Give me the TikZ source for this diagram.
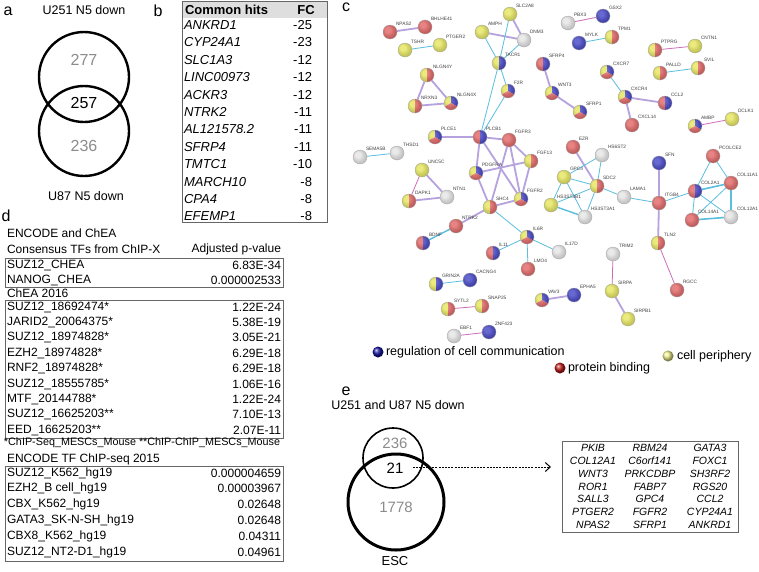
\documentclass[tikz,border=0pt]{standalone}
\usepackage{fontspec}
\setmainfont{Liberation Sans}
\usetikzlibrary{arrows.meta}
\pgfdeclarelayer{back}
\pgfdeclarelayer{bg}
\pgfsetlayers{back,bg,main}
\definecolor{cY}{RGB}{226,226,70}
\definecolor{cR}{RGB}{222,78,78}
\definecolor{cB}{RGB}{40,40,190}
\definecolor{cW}{RGB}{226,226,226}
\definecolor{cyanE}{RGB}{90,190,222}
\definecolor{pinkE}{RGB}{205,110,185}
\definecolor{purpE}{RGB}{182,162,222}
\definecolor{numgray}{RGB}{140,140,140}
\definecolor{hdrgray}{RGB}{222,222,222}
\definecolor{lgB}{RGB}{20,20,160}
\definecolor{lgR}{RGB}{190,25,25}
\definecolor{lgY}{RGB}{240,240,140}
\newcommand\fs[1]{\fontsize{#1}{#1}\selectfont}
\newcommand\shadeball[1]{\shade[ball color=white,opacity=0.3] (#1.center) circle (7);
  \draw[black!35,line width=0.3pt] (#1.center) circle (7);
  \node[glab] (#1-l) at ([shift={(6,8)}]#1.center) {#1};}
\newcommand\gA[4]{\node[gn] (#1) at (#2,-#3) {};
  \fill[#4] (#1.center) circle (7);\shadeball{#1}}
\newcommand\gB[5]{\node[gn] (#1) at (#2,-#3) {};
  \fill[#4] (#1.center) ++(90:7) arc[start angle=90,end angle=270,radius=7] -- cycle;
  \fill[#5] (#1.center) ++(-90:7) arc[start angle=-90,end angle=90,radius=7] -- cycle;
  \shadeball{#1}}
\newcommand\gC[3]{\node[gn] (#1) at (#2,-#3) {};
  \fill[cY] (#1.center) -- ++(90:7) arc[start angle=90,end angle=210,radius=7] -- cycle;
  \fill[cB] (#1.center) -- ++(90:7) arc[start angle=90,end angle=-30,radius=7] -- cycle;
  \fill[cR] (#1.center) -- ++(210:7) arc[start angle=210,end angle=330,radius=7] -- cycle;
  \shadeball{#1}}
\begin{document}
\begin{tikzpicture}[x=1pt,y=1pt,
  every node/.style={inner sep=0pt,outer sep=0pt},
  lbl/.style={font=\fs{16}},
  txt/.style={font=\fs{12.5}},
  num/.style={font=\fs{16}},
  gn/.style={circle,minimum size=14pt,inner sep=0pt},
  glab/.style={font=\fs{4.8},text=black!75,anchor=west},
  ecy/.style={draw=cyanE,line width=0.8pt},
  epk/.style={draw=pinkE,line width=0.8pt},
  epu/.style={draw=purpE,line width=1.8pt},
  tbl/.style={draw=black!60,line width=0.9pt},
  drow/.style={font=\fs{12},anchor=west},
  dval/.style={font=\fs{12},anchor=east},
  venn/.style={circle,draw,inner sep=0pt}]
\useasboundingbox (0,0) rectangle (759,-571);
\begin{pgfonlayer}{back}
\fill[white] (0,0) rectangle (759,-571);
\end{pgfonlayer}
% ---------- panel a
\node[lbl] (la) at (8,-11) {a};
\node[txt] (ta) at (84,-10) {U251 N5 down};
\node[venn,line width=2.4pt,minimum size=90pt] (va1) at (84,-77) {};
\node[venn,line width=2.4pt,minimum size=90pt] (va2) at (84,-131) {};
\node[num,text=numgray] (n277) at (84,-60) {277};
\node[num] (n257) at (84,-103) {257};
\node[num,text=numgray] (n236) at (84,-146) {236};
\node[txt] (tb) at (86,-196) {U87 N5 down};
% ---------- panel b
\node[lbl] (lb) at (158,-11) {b};
\fill[hdrgray] (182,-1) rectangle (327,-18);
\draw[tbl] (182,-1) rectangle (327,-222);
\node[font=\fs{13}\bfseries,anchor=west] (bh1) at (185,-10) {Common hits};
\node[font=\fs{13}\bfseries] (bh2) at (306,-10) {FC};
\foreach \g/\v [count=\i from 0] in {ANKRD1/-25,CYP24A1/-23,SLC1A3/-12,LINC00973/-12,ACKR3/-12,NTRK2/-11,AL121578.2/-11,SFRP4/-11,TMTC1/-10,MARCH10/-8,CPA4/-8,EFEMP1/-8}{
  \node[font=\fs{13}\itshape,anchor=west] (bg\i) at (184,-25-17.4*\i) {\g};
  \node[font=\fs{13},anchor=east] (bv\i) at (312,-25-17.4*\i) {\v};
}
% ---------- panel d
\node[lbl] (ld) at (6,-216) {d};
\node[drow] (d1) at (7,-233) {ENCODE and ChEA};
\node[drow] (d2) at (7,-249) {Consensus TFs from ChIP-X};
\node[dval] (d3) at (281,-249) {Adjusted p-value};
\draw[tbl] (5,-258) rectangle (283,-287);
\foreach \g/\v [count=\i from 0] in {SUZ12\_CHEA/6.83E-34,NANOG\_CHEA/0.000002533}{
  \node[drow] (da\i) at (7,-265-15*\i) {\g};
  \node[dval] (dav\i) at (281,-265-15*\i) {\v};
}
\node[drow] (d4) at (7,-293) {ChEA 2016};
\draw[tbl] (5,-300) rectangle (283,-438);
\foreach \g/\v [count=\i from 0] in {SUZ12\_18692474*/1.22E-24,JARID2\_20064375*/5.38E-19,SUZ12\_18974828*/3.05E-21,EZH2\_18974828*/6.29E-18,RNF2\_18974828*/6.29E-18,SUZ12\_18555785*/1.06E-16,MTF\_20144788*/1.22E-24,SUZ12\_16625203**/7.10E-13,EED\_16625203**/2.07E-11}{
  \node[drow] (db\i) at (7,-307-15.4*\i) {\g};
  \node[dval] (dbv\i) at (281,-307-15.4*\i) {\v};
}
\node[font=\fs{10.8},anchor=west] (d5) at (4,-443) {*ChIP-Seq\_MESCs\_Mouse **ChIP-ChIP\_MESCs\_Mouse};
\node[drow] (d6) at (7,-459) {ENCODE TF ChIP-seq 2015};
\draw[tbl] (5,-466) rectangle (283,-561);
\foreach \g/\v [count=\i from 0] in {SUZ12\_K562\_hg19/0.000004659,EZH2\_B cell\_hg19/0.00003967,CBX\_K562\_hg19/0.02648,GATA3\_SK-N-SH\_hg19/0.02648,CBX8\_K562\_hg19/0.04311,SUZ12\_NT2-D1\_hg19/0.04961}{
  \node[drow] (dc\i) at (7,-473-15.8*\i) {\g};
  \node[dval] (dcv\i) at (281,-473-15.8*\i) {\v};
}
% ---------- panel c
\node[lbl] (lc) at (346,-7) {c};
\gA{NPAS2}{390}{32}{cR}
\gA{BHLHE41}{425}{27}{cR}
\gA{TSHR}{405}{50}{cY}
\gA{PTGER2}{440}{45}{cY}
\gA{SLC2A8}{510}{14}{cY}
\gA{AMPH}{482}{32}{cY}
\gA{DNM3}{524}{40}{cW}
\gB{TACR1}{499}{63}{cY}{cB}
\gC{F2R}{508}{91}
\gA{PBX3}{568}{23}{cW}
\gA{GSX2}{603}{16}{cB}
\gA{MYLK}{579}{43}{cB}
\gB{TPM1}{612}{37}{cY}{cR}
\gB{SFRP4}{543}{64}{cR}{cB}
\gC{WNT3}{552}{93}
\gC{SFRP1}{580}{112}
\gC{CXCR7}{607}{72}
\gC{CXCR4}{625}{97}
\gB{CCL2}{665}{103}{cR}{cB}
\gA{CXCL14}{632}{125}{cR}
\gB{PTPRG}{655}{50}{cY}{cR}
\gA{CNTN1}{695}{46}{cY}
\gB{PALLD}{660}{73}{cY}{cR}
\gB{SVIL}{698}{68}{cY}{cR}
\gC{AMBP}{695}{126}
\gA{DCLK1}{732}{119}{cY}
\gB{NLGN4Y}{427}{75}{cY}{cR}
\gB{NRXN3}{415}{106}{cY}{cR}
\gC{NLGN4X}{451}{103}
\gC{PLCE1}{435}{137}
\gB{PLCB1}{480}{137}{cR}{cB}
\gA{FGFR3}{509}{140}{cR}
\gB{FGF13}{531}{161}{cY}{cR}
\gC{PDGFRA}{476}{173}
\gC{FGFR2}{521}{199}
\gB{SHC4}{490}{207}{cY}{cR}
\gA{NTRK2}{456}{226}{cR}
\gA{SEMA5B}{360}{157}{cW}
\gA{THSD1}{397}{153}{cW}
\gA{UNC5C}{422}{170}{cY}
\gB{DAPK1}{409}{201}{cY}{cR}
\gA{NTN1}{447}{197}{cW}
\gA{EZR}{573}{147}{cR}
\gA{HS6ST2}{602}{155}{cW}
\gA{GPC4}{564}{177}{cY}
\gB{SDC2}{597}{186}{cY}{cR}
\gA{HS3ST3B1}{551}{205}{cY}
\gA{HS3ST3A1}{585}{217}{cW}
\gA{LAMA1}{624}{197}{cW}
\gA{SFN}{659}{163}{cB}
\gA{ITGB4}{659}{203}{cR}
\gB{COL2A1}{695}{191}{cR}{cB}
\gA{PCOLCE2}{713}{156}{cR}
\gA{COL11A1}{731}{183}{cR}
\gA{COL14A1}{692}{220}{cR}
\gA{COL12A1}{731}{217}{cW}
\gC{IL6R}{527}{237}
\gB{TLN2}{658}{243}{cY}{cR}
\gB{BDNF}{423}{243}{cR}{cB}
\gB{IL11}{493}{253}{cR}{cB}
\gA{IL17D}{559}{252}{cW}
\gA{LMO4}{528}{269}{cR}
\gA{TRIM2}{613}{254}{cW}
\gA{RGCC}{677}{290}{cR}
\gB{GRIN2A}{436}{284}{cY}{cB}
\gA{CACNG4}{470}{280}{cB}
\gA{SIRPA}{612}{291}{cY}
\gC{VAV3}{542}{300}
\gA{EPHA5}{574}{295}{cB}
\gA{SIRPB1}{628}{319}{cY}
\gB{SYTL2}{448}{309}{cY}{cR}
\gB{SNAP25}{482}{306}{cY}{cR}
\gA{EBF1}{454}{336}{cW}
\gA{ZNF423}{489}{332}{cB}
\begin{pgfonlayer}{bg}
\draw[epu] (NPAS2) -- (BHLHE41);
\draw[ecy] (TSHR) -- (PTGER2);
\draw[epu] (SLC2A8) -- (DNM3);
\draw[epu] (AMPH) -- (DNM3);
\draw[ecy] (SLC2A8) -- (TACR1);
\draw[ecy] (AMPH) -- (TACR1);
\draw[ecy] (DNM3) -- (TACR1);
\draw[ecy] (TACR1) -- (F2R);
\draw[ecy] (TACR1) -- (PLCB1);
\draw[ecy] (F2R) -- (PLCB1);
\draw[epk] (PBX3) -- (GSX2);
\draw[ecy] (MYLK) -- (TPM1);
\draw[epk] (PTPRG) -- (CNTN1);
\draw[ecy] (PALLD) -- (SVIL);
\draw[epu] (NLGN4Y) -- (NRXN3);
\draw[epu] (NLGN4Y) -- (NLGN4X);
\draw[epu] (NRXN3) -- (NLGN4X);
\draw[epu] (SFRP4) -- (WNT3);
\draw[epu] (WNT3) -- (SFRP1);
\draw[ecy] (CXCR7) -- (CXCR4);
\draw[epu] (CXCR4) -- (CCL2);
\draw[epu] (CXCR4) -- (CXCL14);
\draw[epk] (AMBP) -- (DCLK1);
\draw[epu] (PLCE1) -- (PLCB1);
\draw[epu] (PLCB1) -- (FGFR3);
\draw[epu] (PLCB1) -- (PDGFRA);
\draw[epu] (PLCB1) -- (FGFR2);
\draw[epu] (FGFR3) -- (FGF13);
\draw[epu] (FGFR3) -- (FGFR2);
\draw[epu] (FGFR3) -- (SHC4);
\draw[epu] (PDGFRA) -- (FGF13);
\draw[epu] (PDGFRA) -- (SHC4);
\draw[epu] (FGF13) -- (FGFR2);
\draw[epu] (SHC4) -- (FGFR2);
\draw[epu] (SHC4) -- (NTRK2);
\draw[ecy,line width=1.4pt] (NTRK2) -- (BDNF);
\draw[ecy] (SHC4) -- (IL6R);
\draw[ecy] (SEMA5B) -- (THSD1);
\draw[epk] (UNC5C) -- (DAPK1);
\draw[epu] (UNC5C) -- (NTN1);
\draw[epu] (DAPK1) -- (NTN1);
\draw[epu] (EZR) -- (SDC2);
\draw[ecy] (HS6ST2) -- (SDC2);
\draw[ecy] (GPC4) -- (HS6ST2);
\draw[ecy] (GPC4) -- (SDC2);
\draw[ecy] (GPC4) -- (HS3ST3B1);
\draw[ecy] (GPC4) -- (HS3ST3A1);
\draw[ecy] (HS3ST3B1) -- (SDC2);
\draw[ecy] (HS3ST3A1) -- (SDC2);
\draw[ecy,line width=1.4pt] (HS3ST3B1) -- (HS3ST3A1);
\draw[ecy] (SDC2) -- (LAMA1);
\draw[ecy] (LAMA1) -- (ITGB4);
\draw[epu] (SFN) -- (ITGB4);
\draw[ecy] (ITGB4) -- (COL2A1);
\draw[epu] (ITGB4) -- (TLN2);
\draw[ecy] (COL2A1) -- (PCOLCE2);
\draw[ecy,line width=1.6pt] (COL2A1) -- (COL11A1);
\draw[ecy] (COL2A1) -- (COL14A1);
\draw[ecy] (COL2A1) -- (COL12A1);
\draw[ecy] (PCOLCE2) -- (COL11A1);
\draw[ecy] (COL11A1) -- (COL14A1);
\draw[ecy,line width=1.6pt] (COL11A1) -- (COL12A1);
\draw[ecy,line width=1.6pt] (COL14A1) -- (COL12A1);
\draw[ecy] (IL6R) -- (IL11);
\draw[ecy] (IL6R) -- (IL17D);
\draw[ecy] (IL6R) -- (LMO4);
\draw[epk] (TLN2) -- (RGCC);
\draw[epk] (TRIM2) -- (SIRPA);
\draw[epu] (SIRPA) -- (SIRPB1);
\draw[ecy] (GRIN2A) -- (CACNG4);
\draw[epu] (VAV3) -- (EPHA5);
\draw[epk] (SYTL2) -- (SNAP25);
\draw[epk] (EBF1) -- (ZNF423);
\end{pgfonlayer}
% legend
\shade[ball color=lgB] (378,-352) circle (5.5);
\node[txt,anchor=west] (lg1) at (386,-352) {regulation of cell communication};
\shade[ball color=lgR] (560,-368) circle (5.5);
\node[txt,anchor=west] (lg2) at (568,-368) {protein binding};
\shade[ball color=lgY] (668,-356) circle (5.5);
\node[txt,anchor=west] (lg3) at (677,-356) {cell periphery};
% ---------- panel e
\node[lbl] (le) at (346,-391) {e};
\node[txt] (te) at (398,-405) {U251 and U87 N5 down};
\node[venn,line width=1.6pt,minimum size=60pt] (ve1) at (393,-458) {};
\node[venn,line width=3pt,minimum size=96pt] (ve2) at (396,-502) {};
\node[font=\fs{15},text=numgray] (e236) at (395,-443) {236};
\node[font=\fs{15}] (e21) at (395,-468) {21};
\node[font=\fs{15},text=numgray] (e1778) at (396,-507) {1778};
\node[font=\fs{13}] (eesc) at (395,-561) {ESC};
\draw[tbl] (562,-441) rectangle (738,-532);
\coordinate (arrS) at (413,-467);
\coordinate (arrE) at (551,-467);
\draw[line width=0.8pt,dash pattern=on 2pt off 1.2pt,-{Straight Barb[length=5pt,width=9pt,line width=1pt]}] (arrS) -- (arrE);
\foreach \a/\b/\c [count=\i from 0] in {PKIB/RBM24/GATA3,COL12A1/C6orf141/FOXC1,WNT3/PRKCDBP/SH3RF2,ROR1/FABP7/RGS20,SALL3/GPC4/CCL2,PTGER2/FGFR2/CYP24A1,NPAS2/SFRP1/ANKRD1}{
  \node[font=\fs{10.5}\itshape] (ea\i) at (593,-448-12.8*\i) {\a};
  \node[font=\fs{10.5}\itshape] (eb\i) at (650,-448-12.8*\i) {\b};
  \node[font=\fs{10.5}\itshape] (ec\i) at (710,-448-12.8*\i) {\c};
}
\end{tikzpicture}
\end{document}
